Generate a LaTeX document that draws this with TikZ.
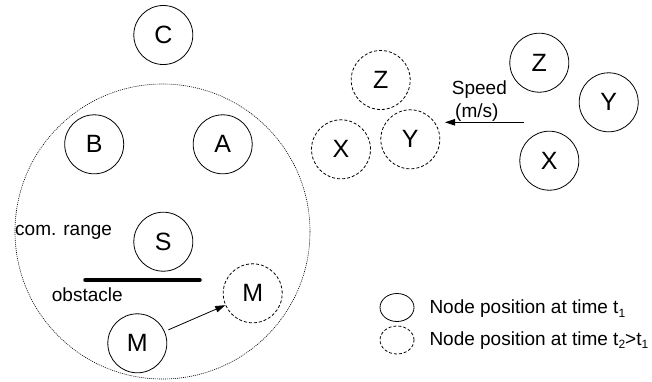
\documentclass[tikz,border=0pt]{standalone}
\usepackage{fontspec}
\setmainfont{Liberation Sans}
\usetikzlibrary{arrows.meta,shapes.geometric}
\newcommand{\lowidx}[1]{\raisebox{-0.2em}{\fontsize{12}{14}\selectfont #1}}
\begin{document}
\begin{tikzpicture}[x=1pt,y=-1pt,
  nodenow/.style={circle, draw, line width=0.8pt, minimum size=59pt, inner sep=0pt,
              font=\fontsize{25}{29}\selectfont},
  nodelater/.style={nodenow, dash pattern=on 3pt off 2pt},
  lbl/.style={font=\fontsize{19}{23}\selectfont, inner sep=0pt, anchor=base west},
  move/.style={-{Triangle[length=10pt,width=6.5pt]}, line width=0.8pt},
  key/.style={ellipse, draw, line width=0.8pt, minimum width=34pt, minimum height=28pt, inner sep=0pt},
]
\useasboundingbox (0,0) rectangle (652,381);

% communication range of S
\draw[line width=0.6pt, dash pattern=on 1pt off 1pt] (162.5,231.5) circle[radius=147.5];

% nodes at time t1 and t2
\node[nodenow] (C) at (163.3,35) {C};
\node[nodenow] (B) at (94.2,144.3) {B};
\node[nodenow] (A) at (222.7,144.3) {A};
\node[nodenow] (S) at (163.3,241.7) {S};
\node[nodenow] (M1) at (137.3,343.3) {M};
\node[nodelater] (M2) at (252.7,293.3) {M};
\node[nodelater] (Z2) at (380.7,80) {Z};
\node[nodelater] (X2) at (341,149.3) {X};
\node[nodelater] (Y2) at (410.3,139.3) {Y};
\node[nodenow] (Z1) at (539.3,62.7) {Z};
\node[nodenow] (Y1) at (608.7,102.3) {Y};
\node[nodenow] (X1) at (549.3,160.7) {X};

% movement of M
\draw[move, shorten <=4pt] (M1) -- (M2);

% group speed
\coordinate (sp0) at (524,122.3);
\coordinate (sp1) at (445,122.3);
\draw[move] (sp0) -- (sp1);
\node[lbl] (spd) at (451.7,94) {Speed};
\node[lbl] (ms) at (455,117.3) {(m/s)};

% obstacle
\coordinate (ob0) at (85,280);
\coordinate (ob1) at (200,280);
\draw[line width=3.5pt, line cap=round] (ob0) -- (ob1);
\node[lbl] (obs) at (51.7,301.5) {obstacle};
\node[lbl] (rng) at (15,235) {com. range};

% legend
\node[key] (k1) at (397,307.5) {};
\node[key, dash pattern=on 3pt off 2pt] (k2) at (397,340) {};
\node[lbl] (t1) at (429.3,313.3) {Node position at time t\lowidx{1}};
\node[lbl] (t2) at (429.3,345) {Node position at time t\lowidx{2}>t\lowidx{1}};
\end{tikzpicture}
\end{document}
